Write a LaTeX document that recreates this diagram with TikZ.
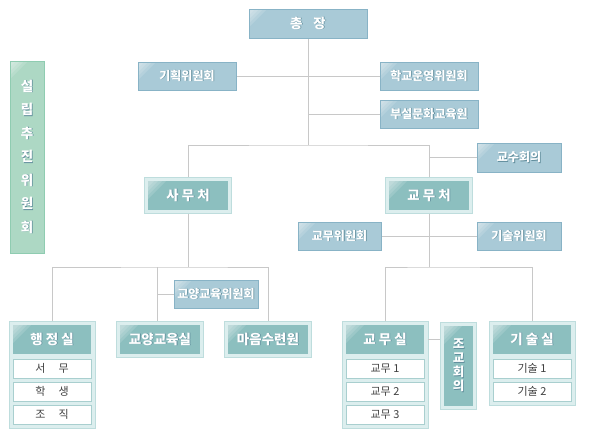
\documentclass[tikz,border=0pt]{standalone}
\usepackage{fontspec}
\setmainfont{Noto Sans CJK KR}
\usetikzlibrary{positioning, fit, backgrounds}

\definecolor{cmtfill}{HTML}{A9CAD7}
\definecolor{cmtline}{HTML}{88B3C6}
\definecolor{offfill}{HTML}{8CBFBF}
\definecolor{framefill}{HTML}{DCEEEE}
\definecolor{frameline}{HTML}{BEDDDD}
\definecolor{foundfill}{HTML}{ADD8C4}
\definecolor{foundline}{HTML}{8FCCB1}
\definecolor{itemline}{HTML}{A9CFCF}
\definecolor{itemtext}{HTML}{404040}
\definecolor{linkc}{HTML}{C8C8C8}
\definecolor{shadowc}{HTML}{5F8C9B}

% white text with a soft shadow
\newcommand\shd[1]{\makebox[0pt][l]{\kern0.8pt\raisebox{-0.8pt}{\color{shadowc}#1}}#1}

\begin{document}
\begin{tikzpicture}[x=1pt, y=-1pt,
    every node/.style={inner sep=0pt, text=white, font=\fontsize{12}{12}\selectfont\bfseries},
    gloss/.style={path picture={
        \foreach \s in {18,14,10,6}
            \fill[white, opacity=0.14] (path picture bounding box.north west) -- ++(\s,0) -- ++(-\s,\s) -- cycle;}},
    committee/.style={rectangle, fill=cmtfill, draw=cmtline, gloss, minimum width=98pt, minimum height=28pt},
    office/.style={rectangle, fill=offfill, gloss, minimum width=80pt, minimum height=29pt, outer sep=4pt,
        preaction={draw=frameline, line width=8pt}, preaction={draw=framefill, line width=6pt},
        font=\fontsize{13.5}{14}\selectfont\bfseries},
    head/.style={rectangle, fill=offfill, gloss, minimum width=78pt, minimum height=29pt, outer sep=4pt,
        font=\fontsize{13.5}{14}\selectfont\bfseries},
    item/.style={rectangle, fill=white, draw=itemline, minimum width=78pt, minimum height=19pt, outer sep=4pt,
        text=itemtext, font=\fontsize{11}{11}\selectfont},
    group/.style={rectangle, fill=framefill, draw=frameline, inner sep=0pt},
    link/.style={draw=linkc, line width=1pt}]

    \useasboundingbox (0,0) rectangle (597,445);

    % Top
    \node[committee, minimum width=118pt, minimum height=29pt, font=\fontsize{13.5}{14}\selectfont\bfseries] (chief) at (308,23.5) {\shd{총\hspace{0.8em}장}};
    \node[committee] (plan) at (187,76) {\shd{기획위원회}};
    \node[committee] (opcom) at (429,76) {\shd{학교운영위원회}};
    \node[committee] (culture) at (429,114) {\shd{부설문화교육원}};
    \node[committee, minimum width=84pt, minimum height=29pt] (faculty) at (519,157.5) {\shd{교수회의}};

    % Founding committee
    \node[rectangle, fill=foundfill, draw=foundline, gloss, minimum width=34pt, minimum height=192pt, align=center,
        font=\fontsize{13.5}{23.5}\selectfont\bfseries] (found) at (27,157)
        {\shd{설}\\\shd{립}\\\shd{추}\\\shd{진}\\\shd{위}\\\shd{원}\\\shd{회}};

    % Two offices
    \node[office] (admin) at (188,195.5) {\shd{사 무 처}};
    \node[office] (acad) at (429,195.5) {\shd{교 무 처}};
    \node[committee, minimum width=83pt] (acadcom) at (339.5,236) {\shd{교무위원회}};
    \node[committee, minimum width=84pt] (techcom) at (519,236) {\shd{기술위원회}};
    \node[committee, minimum width=84pt] (libcom) at (216,294) {\shd{교양교육위원회}};

    % Bottom row
    \node[head] (office) at (52,339.5) {\shd{행 정 실}};
    \node[item] (office1) at (52,368.5) {서\hspace{1.2em}무};
    \node[item] (office2) at (52,391.5) {학\hspace{1.2em}생};
    \node[item] (office3) at (52,414.5) {조\hspace{1.2em}직};
    \node[office] (libarts) at (160,339.5) {\shd{교양교육실}};
    \node[office] (mind) at (268,339.5) {\shd{마음수련원}};
    \node[head] (acadoff) at (385,339.5) {\shd{교 무 실}};
    \node[item] (acadoff1) at (385,368.5) {교무 1};
    \node[item] (acadoff2) at (385,391.5) {교무 2};
    \node[item] (acadoff3) at (385,414.5) {교무 3};
    \node[office, minimum width=29pt, minimum height=80pt, align=center,
        font=\fontsize{12.5}{14}\selectfont\bfseries] (assist) at (458.5,366)
        {\shd{조}\\\shd{교}\\\shd{회}\\\shd{의}};
    \node[head] (techoff) at (532,339.5) {\shd{기 술 실}};
    \node[item] (techoff1) at (532,368.5) {기술 1};
    \node[item] (techoff2) at (532,391.5) {기술 2};

    \begin{scope}[on background layer]
        \node[group, fit=(office)(office3)] (officegrp) {};
        \node[group, fit=(acadoff)(acadoff3)] (acadgrp) {};
        \node[group, fit=(techoff)(techoff2)] (techgrp) {};
    \end{scope}

    % Connectors
    \coordinate (top) at (308,145);
    \coordinate (adminbus) at (188,267);
    \coordinate (acadbus) at (429,267);
    \coordinate (libjoint) at (157,267);
    \begin{scope}[on background layer]
        \draw[link] (chief) -- (top);
        \draw[link] (plan) -- (opcom);
        \draw[link] (chief.south |- culture) -- (culture);
        \draw[link] (admin.north) |- (top) -| (acad.north);
        \draw[link] (acad.north |- faculty) -- (faculty);
        \draw[link] (acadcom) -- (techcom);
        \draw[link] (admin.south) -- (adminbus);
        \draw[link] (office.north) |- (adminbus) -| (mind.north);
        \draw[link] (libjoint) -- (libjoint |- libarts.north);
        \draw[link] (libjoint |- libcom) -- (libcom);
        \draw[link] (acad.south) -- (acadbus);
        \draw[link] (acadoff.north) |- (acadbus) -| (techoff.north);
        \draw[link] (acadgrp.east |- acadoff) -- (assist.west |- acadoff);
    \end{scope}
\end{tikzpicture}
\end{document}
